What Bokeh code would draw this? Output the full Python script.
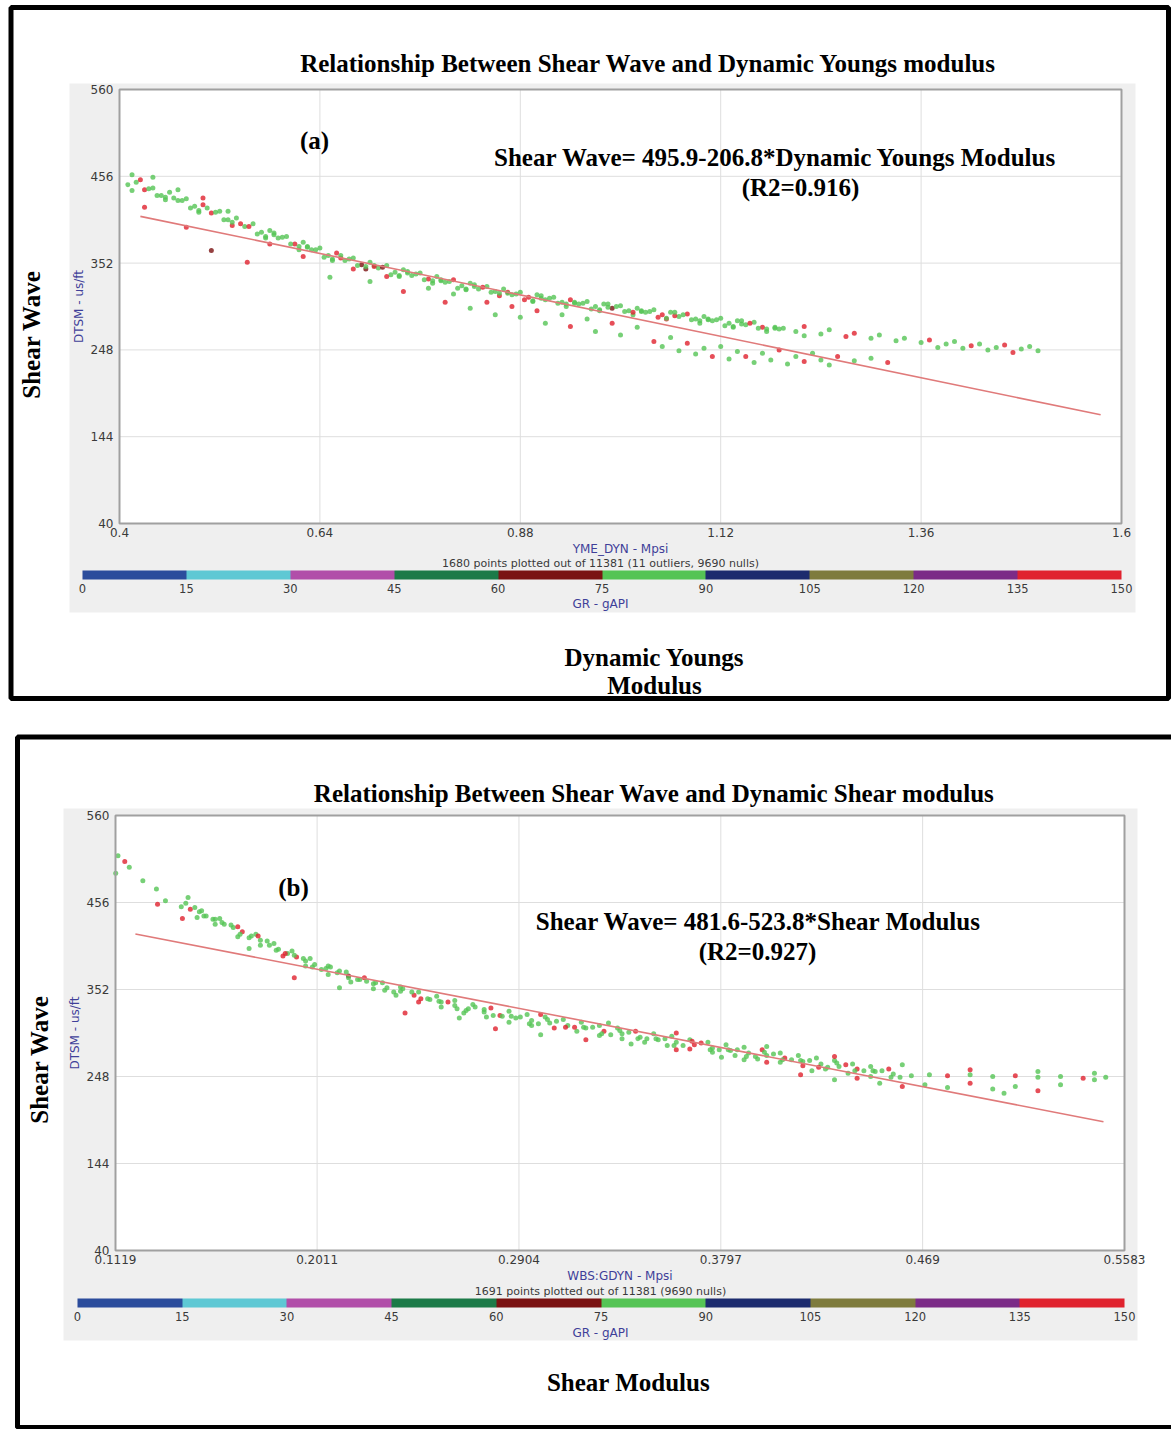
from bokeh.plotting import figure
from bokeh.models import (Range1d, FixedTicker, Label, BoxAnnotation, ColorBar,
                          LinearColorMapper, ColumnDataSource)
from bokeh.layouts import column
from bokeh.transform import transform
from bokeh.embed import file_html
from bokeh.resources import INLINE
import math

# ---------------- data ----------------
GR_TICKS = [0, 15, 30, 45, 60, 75, 90, 105, 120, 135, 150]
GR_COLORS = ["#2b4c9c", "#5ec8d4", "#b14ea9", "#1c7a48", "#7a1212",
             "#55c455", "#1c2b6e", "#7e7b3d", "#7b2b87", "#e0222e"]
Y_TICKS = [40, 144, 248, 352, 456, 560]

# Panel (a): DTSM vs YME_DYN
A_XTICKS = [0.4, 0.64, 0.88, 1.12, 1.36, 1.6]
A_XLABELS = ["0.4", "0.64", "0.88", "1.12", "1.36", "1.6"]
A_X = [0.41, 0.43, 0.45, 0.47, 0.49, 0.51, 0.53, 0.55, 0.57, 0.59,
       0.61, 0.63, 0.65, 0.67, 0.69, 0.71, 0.73, 0.75, 0.77, 0.79,
       0.81, 0.83, 0.85, 0.87, 0.89, 0.91, 0.93, 0.95, 0.97, 0.99,
       1.01, 1.03, 1.05, 1.07, 1.09, 1.11, 1.13, 1.15, 1.17, 1.19,
       1.21, 1.24, 1.27, 1.30, 1.33, 1.36, 1.39, 1.42, 1.45, 1.48, 1.50,
       0.42, 0.44, 0.46, 0.48, 0.50, 0.52, 0.54, 0.56, 0.58, 0.60,
       0.62, 0.64, 0.66, 0.68, 0.70, 0.72, 0.74, 0.76, 0.78, 0.80,
       0.82, 0.84, 0.86, 0.88, 0.90, 0.92, 0.94, 0.96, 0.98, 1.00,
       1.02, 1.04, 1.06, 1.08, 1.10, 1.12, 1.14, 1.16,
       0.415, 0.455, 0.495, 0.535, 0.575, 0.615, 0.655, 0.695, 0.735, 0.775,
       0.815, 0.855, 0.895, 0.935, 0.975, 1.015, 1.055, 1.095, 1.135, 1.175, 1.22,
       0.585, 0.625, 0.665, 0.705, 0.745, 0.785, 0.825, 0.865, 0.905, 0.945,
       0.985, 1.025, 1.065, 1.105, 1.145, 1.185,
       0.435, 0.455, 0.475, 0.495, 0.515, 0.535, 0.555, 0.575, 0.595, 0.615,
       0.635, 0.655, 0.675, 0.695, 0.715, 0.735, 0.755, 0.775, 0.795, 0.815,
       0.835, 0.855, 0.875, 0.895, 0.915, 0.935, 0.955, 0.975, 0.995, 1.015,
       1.035, 1.055, 1.075, 1.095, 1.115, 1.135, 1.155, 1.175, 1.195,
       0.445, 0.465, 0.485, 0.505, 0.525, 0.545, 0.565, 0.585, 0.605, 0.625,
       0.645, 0.665, 0.685, 0.705, 0.725, 0.745, 0.765, 0.785, 0.805, 0.825,
       0.845, 0.865, 0.885, 0.905, 0.925, 0.945, 0.965, 0.985, 1.005, 1.025,
       1.045, 1.065, 1.085, 1.105, 1.125, 1.145, 1.165, 1.185,
       0.43, 0.48, 0.51, 0.553, 0.58, 0.62, 0.652, 0.68, 0.70, 0.72,
       0.74, 0.77, 0.79, 0.80, 0.82, 0.84, 0.85, 0.87, 0.88, 0.90,
       0.91, 0.93, 0.94, 0.96, 0.97, 0.99, 1.00, 1.02, 1.04, 1.05,
       1.06, 1.07, 1.08, 1.09, 1.10, 1.11, 1.12, 1.13, 1.14, 1.15,
       1.16, 1.17, 1.18, 1.19, 1.20, 1.21, 1.22, 1.23, 1.24, 1.25,
       1.26, 1.28, 1.30, 1.32,
       0.415, 0.425, 0.44, 0.47, 0.50, 0.53,
       1.22, 1.25, 1.28, 1.31, 1.34, 1.37, 1.40, 1.43, 1.46, 1.49,
       1.47, 1.44, 1.41, 1.38]
A_Y = [446, 440, 433, 427, 420, 412, 404, 396, 389, 382,
       375, 368, 361, 355, 350, 346, 341, 337, 333, 329,
       325, 321, 318, 314, 311, 308, 305, 303, 300, 298,
       295, 293, 290, 288, 285, 283, 280, 278, 275, 273,
       270, 267, 264, 262, 259, 257, 255, 253, 251, 249, 247,
       449, 442, 437, 429, 422, 414, 406, 399, 391, 384,
       377, 370, 364, 358, 353, 349, 344, 340, 336, 332,
       328, 324, 321, 317, 314, 311, 308, 306, 303, 301,
       298, 296, 293, 291, 288, 286, 283, 281,
       439, 428, 413, 397, 382, 368, 355, 345, 336, 328,
       320, 313, 306, 300, 295, 290, 285, 280, 275, 270, 265,
       386, 372, 358, 349, 340, 332, 324, 317, 310, 304,
       299, 294, 289, 284, 279, 274,
       441, 431, 427, 415, 413, 401, 396, 384, 383, 372,
       368, 357, 357, 348, 347, 337, 339, 331, 330, 321,
       323, 316, 315, 307, 310, 303, 304, 296, 300, 293,
       294, 286, 290, 283, 284, 276, 280, 273, 274,
       433, 430, 418, 418, 404, 399, 387, 388, 375, 371,
       359, 361, 349, 348, 338, 342, 332, 331, 322, 326,
       317, 316, 308, 313, 304, 305, 297, 303, 294, 295,
       287, 293, 284, 285, 277, 283, 274, 275,
       419, 395, 367, 353, 375, 360, 335, 345, 330, 336,
       318, 322, 305, 315, 298, 305, 290, 300, 287, 295,
       280, 290, 276, 285, 270, 280, 266, 275, 258, 252,
       263, 247, 256, 243, 250, 240, 252, 237, 246, 240,
       233, 244, 236, 248, 231, 240, 234, 244, 236, 230,
       240, 235, 238, 233,
       458, 452, 455, 440, 430, 414,
       276, 272, 268, 266, 262, 260, 258, 255, 254, 252,
       245, 248, 250, 251]
A_GR = [80, 140, 80, 80, 80, 140, 80, 80, 80, 80,
        140, 80, 80, 80, 70, 80, 80, 80, 140, 80,
        80, 80, 80, 80, 140, 80, 80, 80, 80, 70,
        80, 80, 140, 80, 80, 80, 80, 80, 140, 80,
        80, 80, 140, 80, 80, 80, 80, 140, 80, 80, 80,
        80, 80, 80, 80, 140, 80, 80, 80, 80, 80,
        80, 80, 140, 80, 80, 80, 80, 80, 80, 140,
        80, 80, 80, 80, 80, 80, 140, 80, 80, 80,
        80, 80, 80, 140, 80, 80, 80, 80,
        80, 80, 80, 140, 80, 80, 80, 70, 80, 80,
        80, 140, 80, 80, 80, 80, 140, 80, 80, 80, 80,
        80, 80, 140, 80, 80, 80, 80, 140, 80, 80,
        80, 80, 140, 80, 80, 80,
        80, 80, 80, 80, 80, 80, 140, 80, 80, 80,
        80, 80, 80, 80, 70, 80, 80, 80, 80, 80,
        140, 80, 80, 80, 80, 80, 80, 80, 80, 140,
        80, 80, 80, 80, 80, 80, 140, 80, 80,
        80, 80, 80, 80, 80, 140, 80, 80, 80, 80,
        80, 80, 80, 140, 80, 80, 80, 80, 80, 80,
        80, 80, 140, 80, 80, 80, 80, 80, 80, 80,
        140, 80, 80, 80, 80, 80, 80, 80,
        140, 140, 70, 140, 140, 140, 80, 140, 80, 140,
        140, 80, 140, 80, 80, 140, 80, 140, 80, 140,
        80, 80, 140, 80, 80, 140, 80, 80, 140, 80,
        80, 80, 140, 80, 80, 140, 80, 80, 80, 140,
        80, 80, 80, 140, 80, 80, 140, 80, 80, 80,
        140, 80, 80, 140,
        80, 140, 80, 80, 140, 80,
        140, 80, 140, 80, 80, 140, 80, 80, 140, 80,
        140, 80, 80, 80]
A_FIT_X = [0.425, 1.575]
A_FIT_Y = [408.0, 170.2]

# Panel (b): DTSM vs WBS:GDYN
B_XTICKS = [0.1119, 0.2011, 0.2904, 0.3797, 0.469, 0.5583]
B_XLABELS = ["0.1119", "0.2011", "0.2904", "0.3797", "0.469", "0.5583"]
B_X = [0.141, 0.145, 0.149, 0.152, 0.156, 0.160, 0.164, 0.168, 0.172, 0.176,
       0.180, 0.184, 0.188, 0.192, 0.196, 0.200, 0.205, 0.210, 0.215, 0.220,
       0.226, 0.232, 0.238, 0.244, 0.250, 0.256, 0.262, 0.268, 0.275, 0.282,
       0.289, 0.296, 0.304, 0.312, 0.320, 0.328, 0.336, 0.344, 0.352, 0.360,
       0.368, 0.376, 0.384, 0.392, 0.400, 0.408, 0.416, 0.424, 0.432, 0.440,
       0.448, 0.456, 0.464,
       0.143, 0.150, 0.158, 0.166, 0.174, 0.182, 0.190, 0.198, 0.206, 0.214,
       0.222, 0.230, 0.238, 0.246, 0.254, 0.262, 0.270, 0.278, 0.286, 0.294,
       0.302, 0.310, 0.318, 0.326, 0.334, 0.342, 0.350, 0.358, 0.366, 0.374,
       0.382, 0.390, 0.398, 0.406, 0.414, 0.422, 0.430, 0.438, 0.446, 0.454,
       0.148, 0.156, 0.166, 0.176, 0.186, 0.196, 0.206, 0.216, 0.226, 0.236,
       0.246, 0.256, 0.266, 0.276, 0.286, 0.296, 0.306, 0.316, 0.326, 0.336,
       0.346, 0.356, 0.366, 0.376, 0.386, 0.396, 0.406, 0.416, 0.426, 0.436, 0.446,
       0.147, 0.155, 0.163, 0.171, 0.179, 0.187, 0.195, 0.203, 0.211, 0.219,
       0.227, 0.235, 0.243, 0.251, 0.259, 0.267, 0.275, 0.283, 0.291, 0.299,
       0.307, 0.315, 0.323, 0.331, 0.339, 0.347, 0.355, 0.363, 0.371, 0.379,
       0.387, 0.395, 0.403, 0.411, 0.419, 0.427, 0.435, 0.443, 0.451, 0.459,
       0.151, 0.159, 0.167, 0.175, 0.183, 0.191, 0.199, 0.207, 0.215, 0.223,
       0.231, 0.239, 0.247, 0.255, 0.263, 0.271, 0.279, 0.287, 0.295, 0.303,
       0.311, 0.319, 0.327, 0.335, 0.343, 0.351, 0.359, 0.367, 0.375, 0.383,
       0.391, 0.399, 0.407, 0.415, 0.423, 0.431, 0.439, 0.447, 0.455,
       0.472, 0.480, 0.490, 0.500, 0.510, 0.520, 0.530, 0.540, 0.550, 0.545,
       0.470, 0.480, 0.490, 0.500, 0.505, 0.510, 0.520, 0.530,
       0.112, 0.113, 0.116, 0.118, 0.124, 0.130, 0.1305, 0.134, 0.144,
       0.1415, 0.171, 0.191, 0.211, 0.240, 0.264, 0.280, 0.300, 0.320, 0.340,
       0.360, 0.380, 0.400, 0.420, 0.440, 0.450, 0.460, 0.415, 0.430, 0.390,
       0.300, 0.330, 0.360, 0.400, 0.430, 0.460, 0.490, 0.520, 0.545]
B_Y = [451, 448, 445, 440, 436, 430, 426, 421, 416, 411,
       405, 400, 395, 391, 386, 382, 377, 372, 368, 364,
       359, 354, 350, 345, 341, 337, 333, 329, 325, 321,
       318, 315, 312, 309, 306, 302, 299, 295, 292, 289,
       286, 282, 279, 276, 273, 270, 266, 263, 260, 257,
       254, 251, 249,
       455, 446, 437, 427, 418, 407, 398, 389, 380, 373,
       366, 360, 355, 349, 344, 339, 334, 330, 326, 322,
       319, 316, 313, 309, 306, 302, 299, 296, 292, 289,
       286, 283, 280, 276, 273, 270, 267, 263, 260, 257,
       438, 430, 415, 405, 392, 380, 370, 361, 353, 345,
       337, 331, 324, 319, 313, 309, 306, 302, 297, 293,
       289, 285, 281, 277, 273, 269, 265, 261, 257, 252, 248,
       450, 436, 429, 414, 410, 395, 389, 376, 374, 364,
       360, 349, 349, 340, 337, 327, 328, 320, 319, 311,
       314, 307, 307, 298, 301, 293, 293, 285, 288, 280,
       280, 272, 275, 268, 267, 259, 262, 255, 255, 247,
       440, 432, 418, 416, 399, 393, 379, 379, 366, 362,
       351, 353, 341, 338, 329, 331, 321, 320, 311, 316,
       307, 307, 299, 303, 293, 293, 285, 290, 280, 280,
       272, 277, 268, 267, 259, 264, 255, 255, 247,
       250, 249, 250, 248, 249, 247, 248, 246, 247, 244,
       238, 235, 240, 233, 228, 236, 231, 238,
       491, 512, 505, 498, 482, 472, 454, 458, 462,
       437, 401, 366, 354, 324, 318, 305, 298, 292, 287,
       280, 271, 265, 255, 246, 240, 236, 250, 244, 268,
       322, 312, 300, 284, 272, 262, 256, 254, 252]
B_GR = [80, 140, 80, 80, 80, 80, 80, 140, 80, 80,
        80, 80, 80, 140, 80, 80, 80, 80, 70, 80,
        80, 80, 80, 140, 80, 80, 80, 80, 80, 140,
        80, 80, 80, 80, 80, 140, 80, 80, 80, 80,
        140, 80, 80, 80, 80, 140, 80, 80, 80, 140,
        80, 80, 80,
        80, 80, 80, 140, 80, 80, 80, 80, 80, 80,
        140, 80, 80, 80, 80, 80, 80, 140, 80, 80,
        80, 80, 80, 80, 80, 140, 80, 80, 80, 80,
        80, 80, 140, 80, 80, 80, 80, 80, 80, 140,
        80, 80, 80, 80, 140, 80, 80, 80, 80, 80,
        140, 80, 80, 80, 80, 80, 140, 80, 80, 80,
        80, 80, 140, 80, 80, 80, 80, 140, 80, 80, 80,
        80, 80, 80, 80, 80, 140, 80, 80, 80, 80,
        80, 80, 80, 80, 140, 80, 80, 80, 80, 80,
        80, 140, 80, 80, 80, 80, 80, 80, 140, 80,
        80, 80, 80, 80, 80, 80, 140, 80, 80, 80,
        80, 80, 80, 140, 80, 80, 80, 80, 80, 80,
        80, 80, 140, 80, 80, 80, 80, 80, 80, 80,
        140, 80, 80, 80, 80, 80, 80, 140, 80, 80,
        80, 80, 80, 80, 140, 80, 80, 80, 80,
        80, 140, 80, 80, 140, 80, 80, 140, 80, 80,
        80, 80, 140, 80, 80, 80, 140, 80,
        80, 80, 140, 80, 80, 80, 140, 80, 80,
        140, 80, 140, 80, 140, 80, 140, 80, 140, 80,
        140, 80, 140, 80, 140, 80, 140, 140, 80, 80,
        140, 80, 140, 80, 140, 80, 140, 80, 80]
B_FIT_X = [0.1207, 0.549]
B_FIT_Y = [418.4, 194.0]

# ---------------- styling / layout (pixel geometry of each panel) ----------------
PAGE_W = 1171
SERIF = "Liberation Serif"
SANS = "DejaVu Sans"
BLUE = "#3f3f99"
TICK_C = "#3a3a3a"

PANEL_A = dict(
    height=730, frame=(119, 89, 1002, 434), xr=(0.4, 1.6),
    xticks=A_XTICKS, xlabels=A_XLABELS, x=A_X, y=A_Y, gr=A_GR,
    fitx=A_FIT_X, fity=A_FIT_Y,
    xlabel="YME_DYN - Mpsi",
    grey=(69, 83, 1135, 612), box=(10.5, 7, 1168, 698),
    cb=(82, 570, 1039),
    texts=[
        ("Relationship Between Shear Wave and Dynamic Youngs modulus", 648, 63, "serif", 0),
        ("(a)", 314, 140, "serif", 0),
        ("Shear Wave= 495.9-206.8*Dynamic Youngs Modulus", 775, 157, "serif", 0),
        ("(R2=0.916)", 800, 187, "serif", 0),
        ("Dynamic Youngs", 654, 657, "serif", 0),
        ("Modulus", 654, 685, "serif", 0),
        ("Shear Wave", 31, 334, "serif", 90),
        ("1680 points plotted out of 11381 (11 outliers, 9690 nulls)", 600, 563, "note", 0),
        ("GR - gAPI", 600, 603, "blue", 0),
    ],
)
PANEL_B = dict(
    height=699, frame=(115, 85, 1009, 435), xr=(0.1119, 0.5583),
    xticks=B_XTICKS, xlabels=B_XLABELS, x=B_X, y=B_Y, gr=B_GR,
    fitx=B_FIT_X, fity=B_FIT_Y,
    xlabel="WBS:GDYN - Mpsi",
    grey=(63, 78, 1137, 610), box=(17, 6.5, 1190, 697),
    cb=(77, 568, 1047),
    texts=[
        ("Relationship Between Shear Wave and Dynamic Shear modulus", 654, 63, "serif", 0),
        ("(b)", 293, 157, "serif", 0),
        ("Shear Wave= 481.6-523.8*Shear Modulus", 758, 191, "serif", 0),
        ("(R2=0.927)", 757, 221, "serif", 0),
        ("Shear Modulus", 628, 652, "serif", 0),
        ("Shear Wave", 39, 329, "serif", 90),
        ("1691 points plotted out of 11381 (9690 nulls)", 600, 561, "note", 0),
        ("GR - gAPI", 600, 602, "blue", 0),
    ],
)


def build(spec):
    W = PAGE_W
    H = spec["height"]
    fl, ft, fw, fh = spec["frame"]
    x0, x1 = spec["xr"]
    y0, y1 = Y_TICKS[0], Y_TICKS[-1]
    kx = (x1 - x0) / fw
    ky = (y1 - y0) / fh
    # the whole canvas is the frame; the data window sits where the plot box is
    p = figure(width=W, height=H,
               x_range=Range1d(x0 - fl * kx, x1 + (W - fl - fw) * kx),
               y_range=Range1d(y0 - (H - ft - fh) * ky, y1 + ft * ky),
               output_backend="svg", toolbar_location=None, tools="", min_border=0)
    p.background_fill_color = "white"
    p.border_fill_color = "white"
    p.outline_line_color = None
    p.xgrid.visible = False
    p.ygrid.visible = False

    def X(px):
        return x0 + (px - fl) * kx

    def Y(py):
        return y1 - (py - ft) * ky

    gl, gt, gr_, gb = spec["grey"]
    p.add_layout(BoxAnnotation(left=X(gl), right=X(gr_), top=Y(gt), bottom=Y(gb),
                               fill_color="#efefef", fill_alpha=1.0, line_color=None,
                               level="underlay"))
    p.add_layout(BoxAnnotation(left=x0, right=x1, top=y1, bottom=y0,
                               fill_color="white", fill_alpha=1.0, line_color=None,
                               level="underlay"))

    # axes drawn at the edges of the data window
    p.xaxis.fixed_location = y0
    p.xaxis.bounds = (x0, x1)
    p.yaxis.fixed_location = x0
    p.yaxis.bounds = (y0, y1)
    p.xaxis.ticker = FixedTicker(ticks=spec["xticks"])
    p.xaxis.major_label_overrides = dict(zip(spec["xticks"], spec["xlabels"]))
    p.yaxis.ticker = FixedTicker(ticks=Y_TICKS)
    for ax in (p.xaxis[0], p.yaxis[0]):
        ax.axis_line_color = None
        ax.major_tick_line_color = None
        ax.minor_tick_line_color = None
        ax.major_tick_out = 0
        ax.major_tick_in = 0
        ax.major_label_text_font = SANS
        ax.major_label_text_font_size = "12px"
        ax.major_label_text_color = TICK_C
        ax.axis_label_text_font = SANS
        ax.axis_label_text_font_size = "12px"
        ax.axis_label_text_font_style = "normal"
        ax.axis_label_text_color = BLUE
    p.xaxis.axis_label = spec["xlabel"]
    p.yaxis.axis_label = "DTSM - us/ft"
    p.xaxis.major_label_standoff = 4
    p.xaxis.axis_label_standoff = 2
    p.yaxis.major_label_standoff = 6
    p.yaxis.axis_label_standoff = 2

    # grid lines at the tick values
    xt = spec["xticks"]
    p.segment(x0=xt, y0=[y0] * len(xt), x1=xt, y1=[y1] * len(xt),
              line_color="#dedede", line_width=1)
    p.segment(x0=[x0] * len(Y_TICKS), y0=Y_TICKS, x1=[x1] * len(Y_TICKS), y1=Y_TICKS,
              line_color="#dedede", line_width=1)

    mapper = LinearColorMapper(palette=GR_COLORS, low=0, high=150)
    src = ColumnDataSource(dict(x=spec["x"], y=spec["y"], gr=spec["gr"]))
    p.scatter("x", "y", source=src, size=5, fill_color=transform("gr", mapper),
              line_color=None, fill_alpha=0.8)
    p.line(spec["fitx"], spec["fity"], line_color="#e07a7a", line_width=1.6)

    # plot-box outline
    p.add_layout(BoxAnnotation(left=x0, right=x1, top=y1, bottom=y0, fill_alpha=0,
                               line_color="#a0a0a0", line_alpha=1.0, line_width=2))
    # outer black frame
    bl, bt, br, bb = spec["box"]
    p.add_layout(BoxAnnotation(left=X(bl), right=X(br), top=Y(bt), bottom=Y(bb),
                               fill_alpha=0, line_color="black", line_alpha=1.0,
                               line_width=5))

    cbx, cby, cbw = spec["cb"]
    cb = ColorBar(color_mapper=mapper, orientation="horizontal", width=cbw, height=9,
                  location=(cbx, H - cby - 25),
                  padding=0, label_standoff=4, ticker=FixedTicker(ticks=GR_TICKS),
                  major_label_text_font=SANS, major_label_text_font_size="11.5px",
                  major_label_text_color=TICK_C, major_tick_line_color=None,
                  minor_tick_line_color=None, bar_line_color=None,
                  border_line_color=None, background_fill_alpha=0)
    p.add_layout(cb, "center")

    for text, px, py, kind, ang in spec["texts"]:
        if kind == "serif":
            kw = dict(text_font=SERIF, text_font_size="25px", text_font_style="bold",
                      text_color="black")
        elif kind == "note":
            kw = dict(text_font=SANS, text_font_size="11px", text_color=TICK_C)
        else:
            kw = dict(text_font=SANS, text_font_size="12px", text_color=BLUE)
        p.add_layout(Label(x=X(px), y=Y(py), text=text, text_align="center",
                           text_baseline="middle", angle=math.radians(ang), **kw))
    return p


pa = build(PANEL_A)
pb = build(PANEL_B)
layout = column(pa, pb, spacing=0)
open("out.html", "w").write(file_html(layout, INLINE))
